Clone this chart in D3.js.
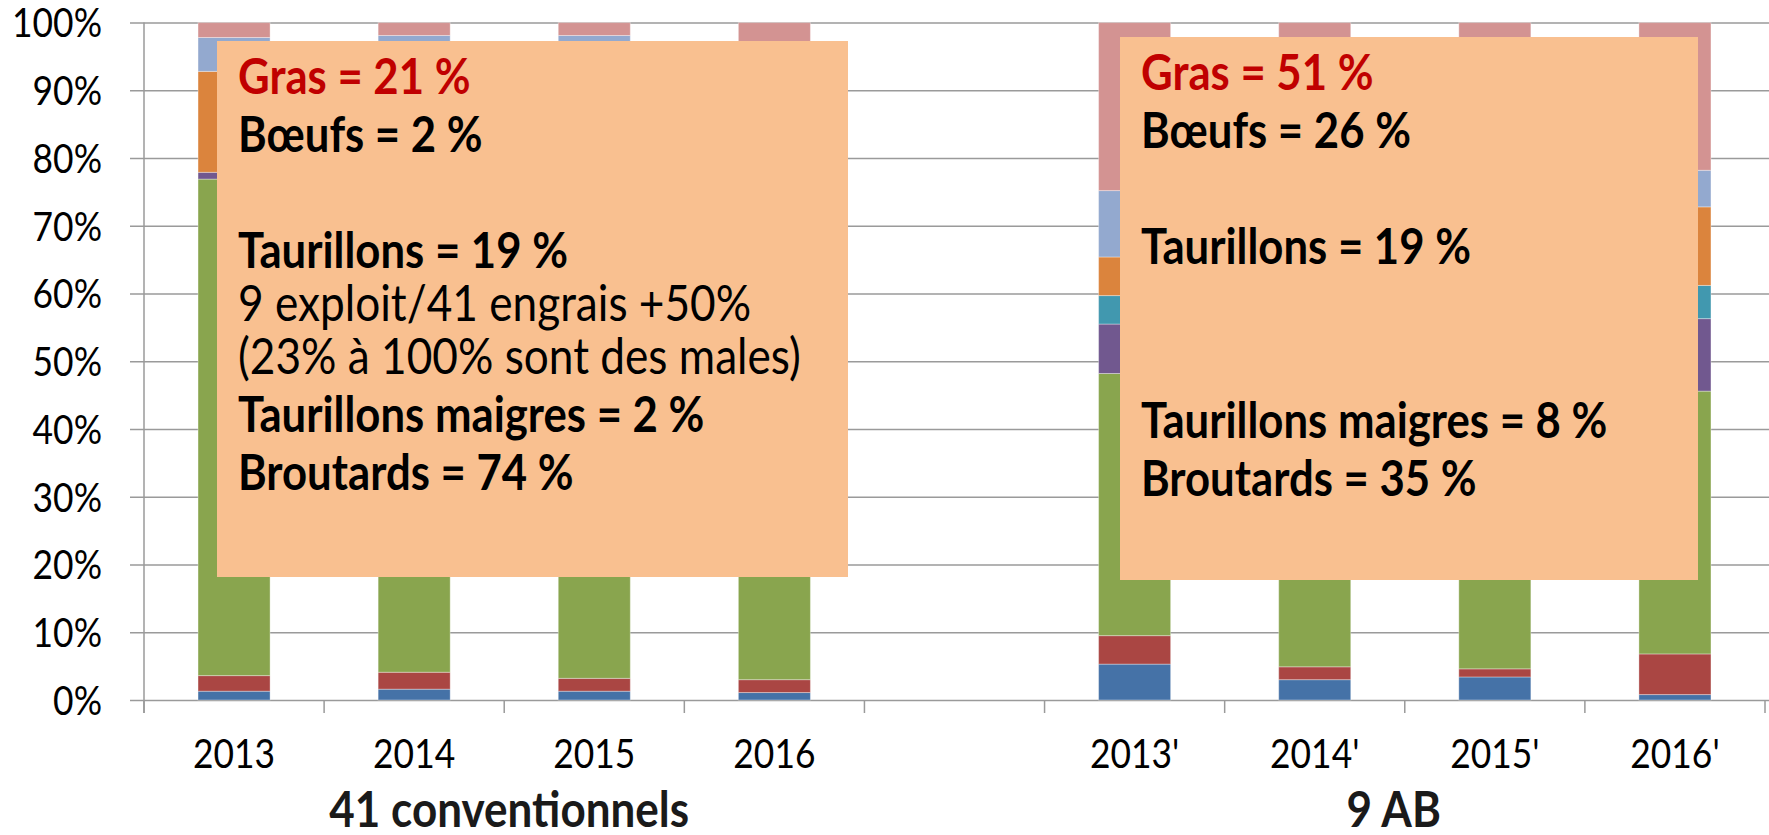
<!DOCTYPE html>
<html>
<head>
<meta charset="utf-8">
<script src="https://cdn.jsdelivr.net/npm/d3@7"></script>
<style>
  body { margin: 0; background: #fff; }
  svg { display: block; }
</style>
</head>
<body>
<div id="app"></div>
<script>
// catégories (une colonne vide sépare les deux groupes)
const categories = ["2013", "2014", "2015", "2016", "", "2013'", "2014'", "2015'", "2016'"];
const groups = ["41 conventionnels", "9 AB"];

// séries, de bas en haut (en % des ventes)
const seriesNames = ["Veaux", "Vaches", "Broutards", "Taurillons maigres", "Génisses", "Taurillons", "Taurillons lourds", "Bœufs"];
const veaux = [1.3, 1.6, 1.3, 1.1, 0, 5.3, 3.0, 3.4, 0.8];
const vaches = [2.3, 2.5, 1.9, 1.9, 0, 4.2, 1.9, 1.2, 6.0];
const broutards = [73.3, 72.0, 74.5, 72.5, 0, 38.7, 35.0, 40.0, 38.8];
const taurillonsMaigres = [1.0, 1.2, 0.8, 1.0, 0, 7.3, 6.0, 5.0, 10.7];
const genisses = [0, 0.4, 0.3, 0.5, 0, 4.2, 3.0, 3.5, 4.9];
const taurillons = [14.9, 15.0, 14.0, 13.5, 0, 5.7, 8.0, 7.0, 11.6];
const taurillonsLourds = [5.0, 5.4, 5.3, 4.5, 0, 9.8, 6.0, 5.0, 5.4];
const boeufs = [2.2, 1.9, 1.9, 5.0, 0, 24.8, 37.1, 34.9, 21.8];
const colors = ["#4572A7", "#AA4643", "#89A54E", "#71588F", "#4198AF", "#DB843D", "#93A9CF", "#D39392"];

const yTicks = [0, 0.1, 0.2, 0.3, 0.4, 0.5, 0.6, 0.7, 0.8, 0.9, 1];

// encadrés de commentaires
const noteLeft = [
  { text: "Gras = 21 %", bold: true, red: true },
  { text: "Bœufs = 2 %", bold: true },
  { text: "", bold: true },
  { text: "Taurillons = 19 %", bold: true },
  { text: "9 exploit/41 engrais +50%", bold: false },
  { text: "(23% à 100% sont des males)", bold: false },
  { text: "Taurillons maigres = 2 %", bold: true },
  { text: "Broutards = 74 %", bold: true },
];
const noteRight = [
  { text: "Gras = 51 %", bold: true, red: true },
  { text: "Bœufs = 26 %", bold: true },
  { text: "", bold: true },
  { text: "Taurillons = 19 %", bold: true },
  { text: "", bold: true },
  { text: "", bold: true },
  { text: "Taurillons maigres = 8 %", bold: true },
  { text: "Broutards = 35 %", bold: true },
];

const width = 1769;
const height = 835;
const FONT = "Lato, 'Open Sans', sans-serif";
const NARROW = 0.89; // la police d'origine est plus étroite que Lato
const margin = { left: 144, right: 4, top: 22.6, bottom: 135 };

const svg = d3.select("#app").append("svg")
  .attr("width", width)
  .attr("height", height);

// taille de police pour qu'un texte occupe une largeur donnée (une fois resserré)
function fitSize(text, weight, target) {
  const t = svg.append("text")
    .attr("font-family", FONT)
    .attr("font-weight", weight)
    .attr("font-size", 100)
    .text(text);
  const w = t.node().getComputedTextLength();
  t.remove();
  return (100 * target) / (w * NARROW);
}

// resserre les glyphes horizontalement
function condense(sel) {
  sel.each(function () {
    const w = this.getComputedTextLength();
    if (w > 0) {
      d3.select(this)
        .attr("textLength", w * NARROW)
        .attr("lengthAdjust", "spacingAndGlyphs");
    }
  });
}

const tickSize = fitSize("100%", 400, 90);
const groupSize = fitSize("41 conventionnels", 700, 360);
const noteBold = fitSize("Taurillons = 19 %", 700, 330);
const noteReg = fitSize("(23% à 100% sont des males)", 400, 563);

const x = d3.scaleBand()
  .domain(d3.range(categories.length))
  .range([margin.left, width - margin.right])
  .paddingInner(0.6)
  .paddingOuter(0.3);

const y = d3.scaleLinear()
  .domain([0, 1])
  .range([height - margin.bottom, margin.top]);

// grille + graduations de l'axe Y
const yAxis = svg.append("g")
  .attr("transform", `translate(${margin.left - 14},0)`)
  .call(d3.axisLeft(y)
    .tickValues(yTicks)
    .tickFormat(d3.format(".0%"))
    .tickSize(-(width - margin.left + 14))
    .tickPadding(28));
yAxis.select(".domain").remove();
yAxis.selectAll(".tick line").attr("stroke", "#9a9a9a").attr("stroke-width", 1.5);
yAxis.selectAll(".tick text")
  .attr("font-family", FONT)
  .attr("font-size", tickSize)
  .attr("fill", "#000")
  .attr("dy", "0.36em")
  .call(condense);

// axe vertical
svg.append("line")
  .attr("x1", margin.left).attr("x2", margin.left)
  .attr("y1", y(1)).attr("y2", y(0) + 13)
  .attr("stroke", "#9a9a9a").attr("stroke-width", 1.5);

// données empilées
const rows = categories.map((c, i) => {
  const r = { i };
  [veaux, vaches, broutards, taurillonsMaigres, genisses, taurillons, taurillonsLourds, boeufs]
    .forEach((s, k) => { r[seriesNames[k]] = s[i] / 100; });
  return r;
});
const stacked = d3.stack().keys(seriesNames)(rows);

svg.append("g")
  .selectAll("g")
  .data(stacked)
  .join("g")
  .attr("fill", (d, k) => colors[k])
  .selectAll("rect")
  .data((d) => d.filter((p) => p[1] > p[0]))
  .join("rect")
  .attr("x", (p) => x(p.data.i))
  .attr("width", x.bandwidth())
  .attr("y", (p) => y(p[1]))
  .attr("height", (p) => y(p[0]) - y(p[1]))
  .attr("stroke", "rgba(255,255,255,0.35)")
  .attr("stroke-width", 1);

// graduations de l'axe X entre les catégories
const step = x.step();
svg.append("g")
  .selectAll("line")
  .data(d3.range(categories.length + 1))
  .join("line")
  .attr("x1", (i) => margin.left + i * step)
  .attr("x2", (i) => margin.left + i * step)
  .attr("y1", y(0))
  .attr("y2", y(0) + 13)
  .attr("stroke", "#9a9a9a")
  .attr("stroke-width", 1.5);

// libellés des années
svg.append("g")
  .selectAll("text")
  .data(categories)
  .join("text")
  .attr("x", (d, i) => x(i) + x.bandwidth() / 2)
  .attr("y", 768)
  .attr("text-anchor", "middle")
  .attr("font-family", FONT)
  .attr("font-size", tickSize)
  .attr("fill", "#000")
  .text((d) => d)
  .call(condense);

// libellés des groupes
const groupSpan = [[0, 3], [5, 8]];
const groupShift = [5, -11];
svg.append("g")
  .selectAll("text")
  .data(groups)
  .join("text")
  .attr("x", (d, k) => (x(groupSpan[k][0]) + x(groupSpan[k][1]) + x.bandwidth()) / 2 + groupShift[k])
  .attr("y", 827)
  .attr("text-anchor", "middle")
  .attr("font-family", FONT)
  .attr("font-weight", 700)
  .attr("font-size", groupSize)
  .attr("fill", "#1a1a1a")
  .text((d) => d)
  .call(condense);

// encadrés
function drawNote(lines, box) {
  const g = svg.append("g");
  g.append("rect")
    .attr("x", box.x).attr("y", box.y)
    .attr("width", box.w).attr("height", box.h)
    .attr("fill", "#F9C090");
  let yy = box.y + 53 - 58;
  lines.forEach((l) => {
    yy += l.bold ? 58 : 53;
    if (!l.text) return;
    g.append("text")
      .attr("x", box.x + 21)
      .attr("y", yy)
      .attr("font-family", FONT)
      .attr("font-weight", l.bold ? 700 : 400)
      .attr("font-size", l.bold ? noteBold : noteReg)
      .attr("fill", l.red ? "#C00000" : "#000")
      .text(l.text)
      .call(condense);
  });
}

drawNote(noteLeft, { x: 217, y: 41, w: 631, h: 536 });
drawNote(noteRight, { x: 1120, y: 37, w: 578, h: 543 });
</script>
</body>
</html>
